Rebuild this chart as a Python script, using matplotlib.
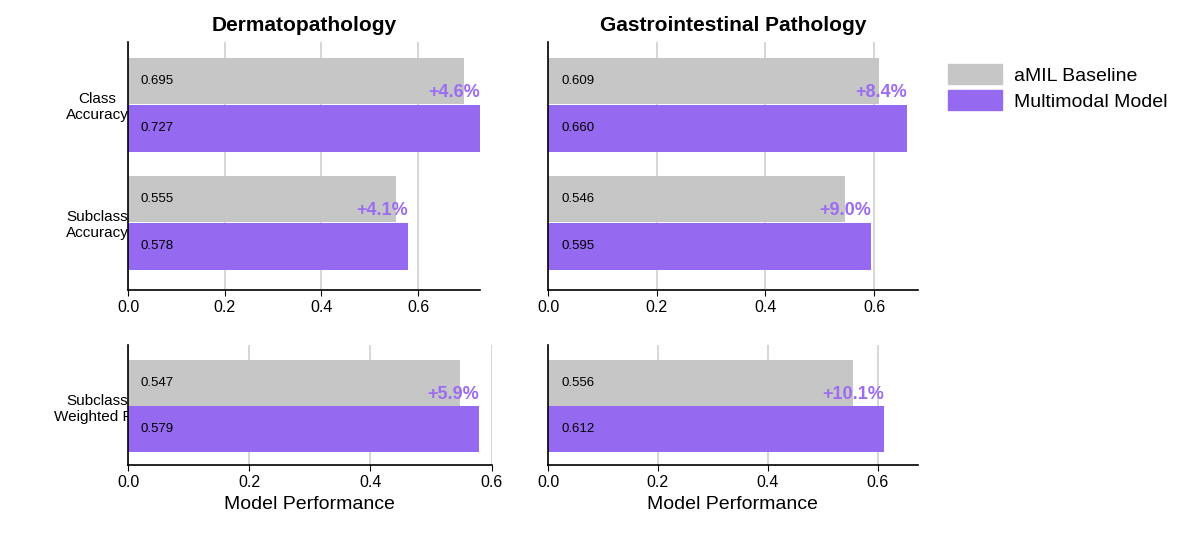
import matplotlib.pyplot as plt
from matplotlib.patches import Patch

plt.rcParams['font.family'] = ['Liberation Sans', 'DejaVu Sans']

titles = ['Dermatopathology', 'Gastrointestinal Pathology']
top_metrics = ['Class\nAccuracy', 'Subclass\nAccuracy']
bottom_metrics = ['Subclass\nWeighted F1']
baseline_top = [[0.695, 0.555], [0.609, 0.546]]
multi_top = [[0.727, 0.578], [0.660, 0.595]]
gain_top = [['+4.6%', '+4.1%'], ['+8.4%', '+9.0%']]
baseline_bottom = [[0.547], [0.556]]
multi_bottom = [[0.579], [0.612]]
gain_bottom = [['+5.9%'], ['+10.1%']]

gray = '#c6c6c6'
purple = '#9569f0'
ann = '#9c6cf2'

fig = plt.figure(figsize=(12, 5.48), dpi=100)
tops = [fig.add_axes([0.1067, 0.471, 0.293, 0.452]),
        fig.add_axes([0.4567, 0.471, 0.308, 0.452])]
bots = [fig.add_axes([0.1067, 0.1515, 0.303, 0.219]),
        fig.add_axes([0.4567, 0.1515, 0.308, 0.219])]
xlims_top = [0.727, 0.68]
xlims_bot = [0.597, 0.673]


def draw(ax, labels, base, multi, gains, ylim, xmax):
    for i in range(len(labels)):
        ax.barh(i - 0.2, base[i], height=0.395, color=gray, zorder=2)
        ax.barh(i + 0.2, multi[i], height=0.395, color=purple, zorder=2)
        ax.text(0.025 * xmax / 0.7, i - 0.2, f'{base[i]:.3f}', va='center', fontsize=9.5, zorder=4)
        ax.text(0.025 * xmax / 0.7, i + 0.2, f'{multi[i]:.3f}', va='center', fontsize=9.5, zorder=4)
        ax.text(multi[i], i - 0.1, gains[i], ha='right', va='center', fontsize=13,
                fontweight='bold', color=ann, zorder=4)
    ax.set_ylim(*ylim)
    ax.set_xlim(0, xmax)
    ax.set_yticks(range(len(labels)))
    ax.set_yticklabels(labels, fontsize=11, ha='center')
    ax.tick_params(axis='y', length=0, pad=22)
    ax.tick_params(axis='x', labelsize=11.5, length=4)
    ax.set_xticks([0, 0.2, 0.4, 0.6])
    ax.set_xticklabels(['0.0', '0.2', '0.4', '0.6'])
    ax.grid(axis='x', color='#d0d0d0', linewidth=1.2, zorder=3)
    ax.spines['top'].set_visible(False)
    ax.spines['right'].set_visible(False)
    for s in ('left', 'bottom'):
        ax.spines[s].set_linewidth(1.2)


for j in range(2):
    draw(tops[j], top_metrics, baseline_top[j], multi_top[j], gain_top[j], (1.57, -0.53), xlims_top[j])
    tops[j].set_title(titles[j], fontsize=15, fontweight='bold', pad=8)
    draw(bots[j], bottom_metrics, baseline_bottom[j], multi_bottom[j], gain_bottom[j], (0.51, -0.53), xlims_bot[j])
    bots[j].set_xlabel('Model Performance', fontsize=14)
tops[1].set_yticklabels([])
bots[1].set_yticklabels([])

fig.legend(handles=[Patch(color=gray, label='aMIL Baseline'), Patch(color=purple, label='Multimodal Model')],
           loc='upper left', bbox_to_anchor=(0.775, 0.915), frameon=False, fontsize=14,
           handlelength=2.8, handleheight=1.2, handletextpad=0.6, labelspacing=0.3)

fig.savefig('out.png', dpi=100)
